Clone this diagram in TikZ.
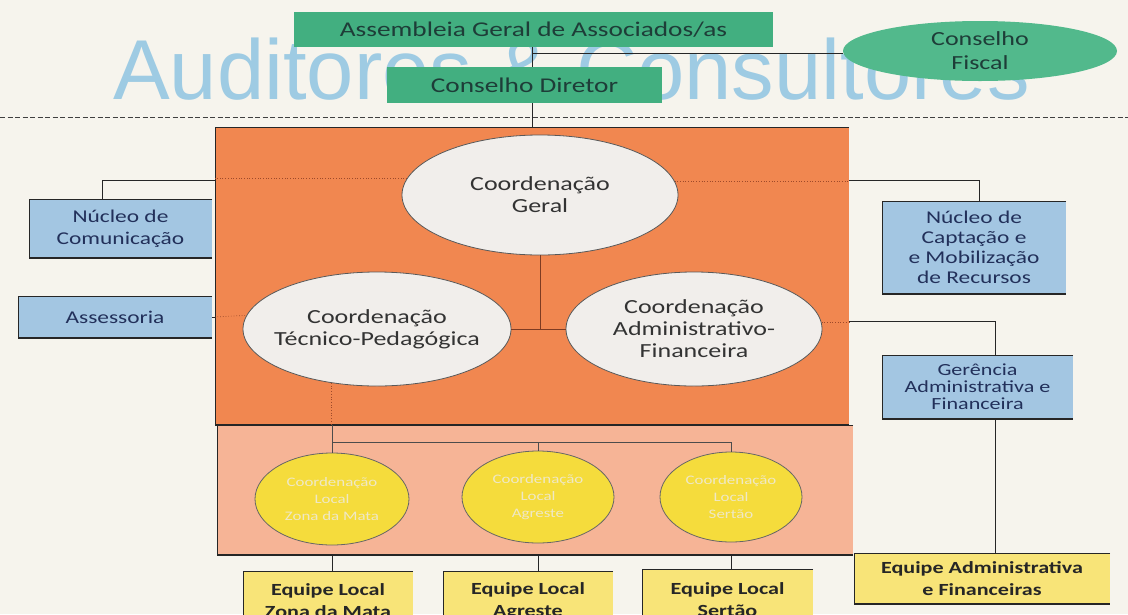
\documentclass[tikz,border=0pt]{standalone}
\usepackage{fontspec}
\setmainfont{Carlito}[FakeStretch=1.3]
\newfontfamily\markfont{Liberation Sans}
\usetikzlibrary{shapes.geometric}

\definecolor{paper}{HTML}{F6F4ED}
\definecolor{marcablue}{HTML}{9ECBE3}
\definecolor{verde}{HTML}{42AF80}
\definecolor{verdeell}{HTML}{52B98C}
\definecolor{verdetxt}{HTML}{1E3D38}
\definecolor{laranja}{HTML}{F18750}
\definecolor{pessego}{HTML}{F6B496}
\definecolor{cinzaell}{HTML}{F1EEEB}
\definecolor{azul}{HTML}{A3C6E2}
\definecolor{azultxt}{HTML}{22305A}
\definecolor{amarelo}{HTML}{F5DC3C}
\definecolor{amarelobox}{HTML}{F8E478}
\definecolor{amarelotxt}{HTML}{EFE8C6}
\definecolor{interno}{HTML}{9E4A2A}

\tikzset{
    edged/.style={path picture={\draw[black!85,line width=2.4pt]
        (path picture bounding box.north east) -| (path picture bounding box.south west)
        -- (path picture bounding box.south east);}},
    greenbox/.style={rectangle, fill=verde, text=verdetxt, inner sep=0pt,
        font=\fontsize{21}{24}\selectfont},
    bluebox/.style={rectangle, fill=azul, edged, text=azultxt, align=center, inner sep=0pt},
    yellowbox/.style={rectangle, fill=amarelobox, edged, text=black!85, align=center,
        inner sep=0pt, font=\bfseries\fontsize{17}{22}\selectfont},
    greyell/.style={ellipse, fill=cinzaell, draw=black!65, line width=.8pt, inner sep=0pt},
    yellowell/.style={ellipse, fill=amarelo, draw=black!60, line width=.8pt, inner sep=0pt},
    elltext/.style={align=center, text=black!80, font=\fontsize{20}{22}\selectfont},
    loctext/.style={align=center, text=amarelotxt, font=\fontsize{13}{17}\selectfont},
    link/.style={draw=black!85, line width=1pt},
    dotlink/.style={draw=interno, line width=.7pt, dotted},
    innerline/.style={draw=interno!80!black, line width=.7pt},
    busline/.style={draw=black!70, line width=.8pt},
    sepline/.style={draw=black!75, line width=1pt, dash pattern=on 5pt off 2.5pt},
}

\begin{document}
\begin{tikzpicture}[x=1pt,y=-1pt]
    \useasboundingbox (0,0) rectangle (1128,614);
    \clip (0,0) rectangle (1128,614);
    \fill[paper] (0,0) rectangle (1128,614);
    \node[anchor=base west, text=marcablue, inner sep=0pt,
        font=\markfont\fontsize{85}{85}\selectfont] (marca) at (113,99) {Auditores \& Consultores};

    \node[greenbox, minimum width=479pt, minimum height=35pt] (assembleia) at (533.5,29.5)
        {Assembleia Geral de Associados/as};
    \node[greenbox, minimum width=275pt, minimum height=36pt] (diretor) at (524.5,85) {Conselho Diretor};
    \node[ellipse, fill=verdeell, inner sep=0pt, minimum width=274pt, minimum height=60pt,
        label={[text=verdetxt, align=center, font=\fontsize{20}{24}\selectfont]center:{Conselho\\Fiscal}}]
        (fiscal) at (980,51) {};
    \coordinate (spine) at (532,0);
    \coordinate (fj) at (532,53);
    \draw[link] (assembleia.south -| spine) -- (diretor.north -| spine);
    \draw[link] (fj) -- (fj -| fiscal.west);
    \draw[sepline] (0,117) -- (1128,117);

    \node[rectangle, fill=laranja, edged, minimum width=634pt, minimum height=298pt] (coordbox) at (532,276) {};
    \node[rectangle, fill=pessego, edged, minimum width=636pt, minimum height=130pt] (localbox) at (535,490) {};
    \draw[link] (diretor.south -| spine) -- (coordbox.north -| spine);

    \node[greyell, minimum width=276pt, minimum height=120pt,
        label={[elltext]center:{Coordenação\\Geral}}] (geral) at (540,195) {};
    \node[greyell, minimum width=268pt, minimum height=114pt,
        label={[elltext]center:{Coordenação\\Técnico-Pedagógica}}] (tecnico) at (377,329) {};
    \node[greyell, minimum width=256pt, minimum height=114pt,
        label={[elltext]center:{Coordenação\\Administrativo-\\Financeira}}] (admin) at (694,329) {};
    \draw[innerline] (geral.south) -- (geral.south |- tecnico.east);
    \draw[innerline] (tecnico.east) -- (admin.west);

    \node[bluebox, minimum width=183pt, minimum height=59pt, font=\fontsize{18}{22}\selectfont]
        (comunicacao) at (120.5,228.5) {Núcleo de\\Comunicação};
    \node[bluebox, minimum width=194pt, minimum height=42pt, font=\fontsize{18}{22}\selectfont]
        (assessoria) at (115,317) {Assessoria};
    \node[bluebox, minimum width=184pt, minimum height=93pt, font=\fontsize{18}{20}\selectfont]
        (captacao) at (974,247.5) {Núcleo de\\Captação e\\e Mobilização\\de Recursos};
    \node[bluebox, minimum width=191pt, minimum height=64pt, font=\fontsize{17}{17}\selectfont]
        (gerencia) at (977.5,387) {Gerência\\Administrativa e\\Financeira};
    \node[yellowbox, minimum width=256pt, minimum height=51pt] (equipeadm) at (982,578.5)
        {Equipe Administrativa\\e Financeiras};

    \coordinate (cj) at (102,180);
    \coordinate (rj) at (979,180);
    \coordinate (gj) at (995,321);
    \draw[dotlink] (geral.173.6) -- (geral.173.6 -| coordbox.west);
    \draw[link] (cj -| coordbox.west) -| (comunicacao.north -| cj);
    \draw[link] (assessoria.east) -- (assessoria.east -| coordbox.west);
    \draw[dotlink] (assessoria.east -| coordbox.west) -- (tecnico.174.8);
    \draw[dotlink] (geral.6.4) -- (geral.6.4 -| coordbox.east);
    \draw[link] (coordbox.east |- rj) -| (captacao.north -| rj);
    \draw[dotlink] (admin.3.6) -- (admin.3.6 -| coordbox.east);
    \draw[link] (coordbox.east |- gj) -| (gerencia.north -| gj);
    \draw[link] (gerencia.south -| gj) -- (equipeadm.north -| gj);

    \node[yellowell, minimum width=154pt, minimum height=92pt,
        label={[loctext]center:{Coordenação\\Local\\Zona da Mata}}] (loc1) at (332,499) {};
    \node[yellowell, minimum width=152pt, minimum height=92pt,
        label={[loctext]center:{Coordenação\\Local\\Agreste}}] (loc2) at (538,497) {};
    \node[yellowell, minimum width=142pt, minimum height=90pt,
        label={[loctext]center:{Coordenação\\Local\\Sertão}}] (loc3) at (731,497) {};
    \coordinate (bus) at (0,442);
    \draw[dotlink] (tecnico.230.7) -- (tecnico.230.7 |- coordbox.south);
    \draw[busline] (loc1.north |- coordbox.south) -- (loc1.north |- bus);
    \draw[busline] (loc1.north |- bus) -- (loc3.north |- bus);
    \foreach \n in {loc1,loc2,loc3}
        \draw[busline] (\n.north |- bus) -- (\n.north);

    \node[yellowbox, minimum width=170pt, minimum height=60pt] (eq1) at (328,601) {Equipe Local\\Zona da Mata};
    \node[yellowbox, minimum width=170pt, minimum height=60pt] (eq2) at (528,601) {Equipe Local\\Agreste};
    \node[yellowbox, minimum width=171pt, minimum height=62pt] (eq3) at (727.5,600) {Equipe Local\\Sertão};
    \foreach \n in {1,2,3}
        \draw[link] (loc\n.south |- localbox.south) -- (loc\n.south |- eq\n.north);
\end{tikzpicture}
\end{document}
